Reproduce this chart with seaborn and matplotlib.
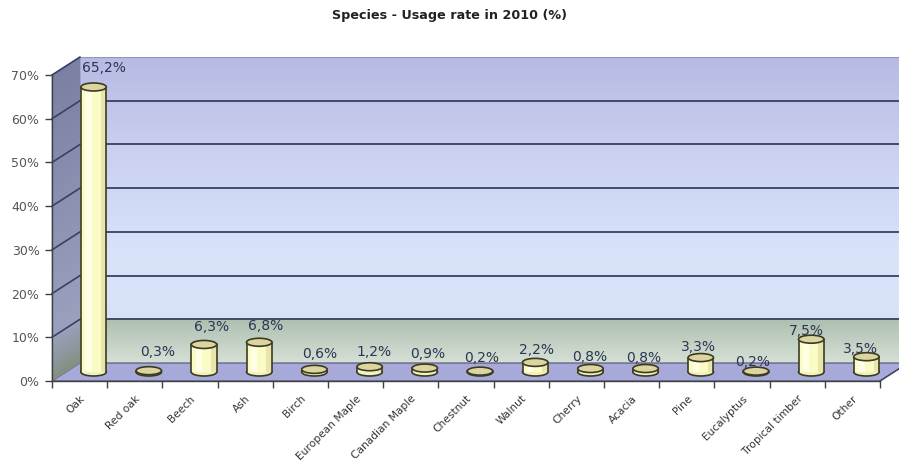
import numpy as np
import pandas as pd
import matplotlib
matplotlib.use("Agg")
import matplotlib.pyplot as plt
import seaborn as sns
from matplotlib.patches import Ellipse, Polygon, Rectangle
from matplotlib.lines import Line2D
from matplotlib.transforms import IdentityTransform, offset_copy

# ---- data ----
categories = ["Oak", "Red oak", "Beech", "Ash", "Birch", "European Maple",
              "Canadian Maple", "Chestnut", "Walnut", "Cherry", "Acacia",
              "Pine", "Eucalyptus", "Tropical timber", "Other"]
values = [65.2, 0.3, 6.3, 6.8, 0.6, 1.2, 0.9, 0.2, 2.2, 0.8, 0.8, 3.3, 0.2, 7.5, 3.5]
yticks = [0, 10, 20, 30, 40, 50, 60, 70]
ytick_labels = ["0%", "10%", "20%", "30%", "40%", "50%", "60%", "70%"]
title = "Species - Usage rate in 2010 (%)"

sns.set_theme(style="white")
plt.rcParams["font.family"] = ["DejaVu Sans"]

W, H = 899, 467
fig = plt.figure(figsize=(W / 100, H / 100), dpi=100)
fig.patch.set_facecolor("white")

def box(l, b, w, h):
    return [l / W, b / H, w / W, h / H]

depth_x, depth_y = 28, 18
front_l, front_b, aw, ah = 52, 467 - 381, 828, 306
ax_back = fig.add_axes(box(front_l + depth_x, front_b + depth_y, aw, ah))
ax_mid = fig.add_axes(box(front_l + depth_x / 2, front_b + depth_y / 2, aw, ah))
ax = fig.add_axes(box(front_l, front_b, aw, ah))
for a in (ax_back, ax_mid, ax):
    a.set_xlim(-0.5, len(categories) - 0.5)
    a.set_ylim(0, 70)
ax_back.set_zorder(0)
ax_mid.set_zorder(1)
ax.set_zorder(2)
ax_mid.patch.set_visible(False)
ax.patch.set_visible(False)

# ---- back wall gradient ----
stops_y = np.array([0, 10, 10.01, 25, 45, 70])
stops_c = np.array([
    [0.84, 0.88, 0.84],
    [0.68, 0.75, 0.69],
    [0.85, 0.89, 0.97],
    [0.85, 0.89, 0.98],
    [0.80, 0.83, 0.95],
    [0.72, 0.73, 0.89],
])
ys = np.linspace(0, 70, 400)
grad = np.stack([np.interp(ys, stops_y, stops_c[:, k]) for k in range(3)], axis=-1)[:, None, :]
ax_back.imshow(grad, origin="lower", aspect="auto",
               extent=(-0.5, len(categories) - 0.5, 0, 70), zorder=0)
for k in yticks[1:-1]:
    ax_back.axhline(k, color="#3a4060", lw=1.3, zorder=1)
ax_back.axhline(70, color="#9094b8", lw=0.8, zorder=1)
ax_back.set_xticks([])
ax_back.set_yticks([])
for s in ax_back.spines.values():
    s.set_visible(False)

# ---- floor and left wall (polygons from axes transforms) ----
def disp(a, x, y):
    return a.transData.transform((x, y))

x0, x1 = -0.5, len(categories) - 0.5
floor = [disp(ax, x0, 0), disp(ax, x1, 0), disp(ax_back, x1, 0), disp(ax_back, x0, 0)]
fig.patches.append(Polygon(floor, closed=True, transform=IdentityTransform(),
                           facecolor="#a7aad9", edgecolor="#505070", lw=0.8,
                           zorder=0.5, figure=fig))
nsl = 60
lw_top = np.array([0.48, 0.50, 0.64])
lw_mid = np.array([0.60, 0.63, 0.74])
lw_bot = np.array([0.50, 0.56, 0.50])
edges = np.linspace(0, 70, nsl + 1)
for i in range(nsl):
    ya, yb = edges[i], edges[i + 1]
    t = (ya + yb) / 2
    if t < 10:
        c = lw_bot + (lw_mid - lw_bot) * (t / 10)
    else:
        c = lw_mid + (lw_top - lw_mid) * ((t - 10) / 60)
    poly = [disp(ax, x0, ya), disp(ax, x0, yb), disp(ax_back, x0, yb), disp(ax_back, x0, ya)]
    fig.patches.append(Polygon(poly, closed=True, transform=IdentityTransform(),
                               facecolor=c, edgecolor=c, lw=0.5, zorder=0.5, figure=fig))
for k in yticks[1:]:
    p, q = disp(ax, x0, k), disp(ax_back, x0, k)
    fig.lines.append(Line2D([p[0], q[0]], [p[1], q[1]], transform=IdentityTransform(),
                            color="#3a4060", lw=1.2, zorder=0.6, figure=fig))
p, q = disp(ax, x1, 0), disp(ax_back, x1, 0)
fig.lines.append(Line2D([p[0], q[0]], [p[1], q[1]], transform=IdentityTransform(),
                        color="#404060", lw=1.0, zorder=0.6, figure=fig))

# ---- bars (cylinders) ----
df = pd.DataFrame({"species": categories, "value": values})
bar_w = 0.46
sns.barplot(data=df, x="species", y="value", ax=ax_mid, width=bar_w,
            color="#fbfbc6", saturation=1, linewidth=0, zorder=3)
px_per_unit = ah / 70.0
ell_h = 8.0 / px_per_unit
edge_c = "#3b3b22"
n = len(categories)
for i, (patch, v) in enumerate(zip(ax_mid.patches[:n], values)):
    xl = patch.get_x()
    w = patch.get_width()
    xc = xl + w / 2
    hgt = patch.get_height()
    patch.set_zorder(3)
    patch.set_clip_on(False)
    ax_mid.add_patch(Rectangle((xl + w * 0.18, 0), w * 0.25, hgt, clip_on=False,
                               facecolor="#ffffe6", lw=0, zorder=3.05))
    ax_mid.add_patch(Rectangle((xl + w * 0.78, 0), w * 0.22, hgt, clip_on=False,
                               facecolor="#e9e6ac", lw=0, zorder=3.05))
    ax_mid.add_patch(Ellipse((xc, 0), w, ell_h, facecolor="#f3f1bc", clip_on=False,
                             edgecolor=edge_c, lw=1.2, zorder=2.9))
    ax_mid.plot([xl, xl], [0, hgt], color=edge_c, lw=1.2, zorder=3.1, clip_on=False)
    ax_mid.plot([xl + w, xl + w], [0, hgt], color=edge_c, lw=1.2, zorder=3.1, clip_on=False)
    ax_mid.add_patch(Ellipse((xc, hgt), w, ell_h, facecolor="#dcd5a2", clip_on=False,
                             edgecolor=edge_c, lw=1.2, zorder=3.2))
    lab = f"{v:.1f}".replace(".", ",") + "%"
    # perspective shift of labels: more right/up on the left side of the chart
    tr = offset_copy(ax_mid.transData, fig=fig, x=10 - 1.15 * i, y=19 - 0.8 * i,
                     units="dots")
    ax_mid.text(xc, hgt, lab, ha="center", va="center", transform=tr,
                fontsize=10, color="#2b3552", zorder=4, clip_on=False)
ax_mid.set_xlabel("")
ax_mid.set_ylabel("")
ax_mid.set_xticks([])
ax_mid.set_yticks([])
for s in ax_mid.spines.values():
    s.set_visible(False)

# ---- front axes: ticks and labels ----
ax.set_xticks(range(n))
ax.set_xticklabels(categories, rotation=45, ha="right", rotation_mode="anchor",
                   fontsize=7.7, color="#333333")
ax.set_xticks(np.arange(-0.5, n, 1.0), minor=True)
ax.tick_params(axis="x", which="major", length=0, pad=9)
ax.tick_params(axis="x", which="minor", length=5, width=1, color="#404040",
               direction="out", bottom=True)
ax.set_yticks(yticks)
ax.set_yticklabels(ytick_labels, fontsize=9, color="#555555")
ax.tick_params(axis="y", length=5, width=1, color="#404040", direction="out",
               left=True, pad=4)
for name, s in ax.spines.items():
    if name in ("left", "bottom"):
        s.set_visible(True)
        s.set_color("#404040")
        s.set_linewidth(1.0)
    else:
        s.set_visible(False)
ax.set_xlabel("")
ax.set_ylabel("")

fig.text(0.5, 1 - 15 / H, title, ha="center", va="center",
         fontsize=9.2, fontweight="bold", color="#222222")

fig.savefig("out.png", dpi=100)
